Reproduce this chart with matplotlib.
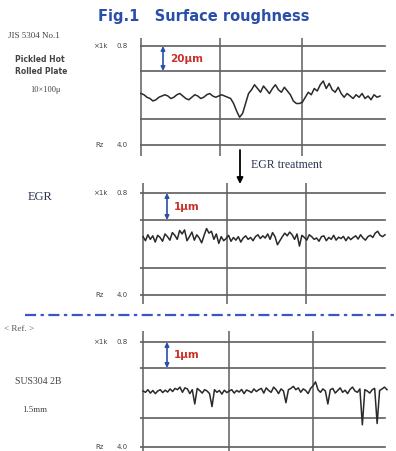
import matplotlib.pyplot as plt
import numpy as np

W, H = 396, 451

# profile heights (um), left to right
prof_hot = [2, 1, -1, -2, -4, -3, -1, 0, 1, 0, -2, -1, 1, 2, 0, -2, -3, -1, 1, 0,
            -2, -1, 1, 2, 0, -1, 0, 1, 0, -1, -2, -6, -12, -17, -14, -6, 2, 5, 9, 6,
            3, 8, 5, 2, 6, 9, 5, 3, 7, 4, 1, -4, -6, -6, -5, -1, 3, 1, 6, 4,
            9, 12, 6, 10, 5, 3, 7, 2, -1, 2, 0, -2, 1, -1, 2, -2, 0, -3, 1, -1, 0]

prof_egr = [0.05, -0.10, 0.12, -0.05, 0.08, -0.15, 0.10, 0.02, -0.12, 0.15,
            0.05, -0.08, 0.20, 0.10, -0.05, 0.28, 0.15, 0.30, -0.10, 0.05,
            0.22, -0.08, 0.12, 0.00, -0.18, 0.10, 0.35, 0.18, 0.25, -0.05,
            0.15, -0.20, 0.05, -0.10, -0.02, 0.10, -0.12, 0.02, -0.08, 0.05,
            -0.15, 0.00, 0.08, -0.05, 0.02, -0.10, 0.05, 0.12, -0.02, 0.08,
            0.00, 0.15, -0.05, 0.20, 0.05, -0.25, -0.10, 0.05, 0.18, 0.08,
            0.22, 0.12, -0.05, 0.15, -0.30, 0.10, 0.02, -0.08, 0.12, 0.05,
            -0.05, 0.00, -0.12, 0.05, 0.08, -0.10, 0.02, -0.05, 0.10, -0.08,
            0.03, -0.02, 0.06, -0.10, 0.04, -0.06, 0.02, 0.08, -0.04, 0.12,
            0.00, -0.08, 0.05, 0.10, 0.02, 0.18, 0.25, 0.10, 0.05, 0.12]

prof_ref = [0.00, -0.05, 0.05, -0.08, 0.02, -0.10, 0.00, 0.05, -0.06, 0.03,
            -0.04, 0.08, -0.02, 0.10, 0.05, 0.15, -0.05, 0.12, 0.08, -0.10,
            0.05, -0.50, 0.10, 0.02, -0.08, 0.05, 0.00, -0.10, -0.60, 0.05,
            -0.05, 0.02, -0.12, 0.03, -0.06, 0.00, 0.05, -0.08, 0.02, -0.04,
            0.06, -0.10, 0.04, 0.00, -0.06, 0.08, -0.02, 0.05, 0.10, -0.08,
            0.12, 0.02, -0.05, 0.15, 0.05, -0.10, 0.08, 0.00, -0.45, 0.05,
            0.10, 0.18, 0.05, 0.12, -0.05, 0.08, 0.02, -0.10, 0.10, 0.20,
            0.35, 0.05, -0.05, 0.08, 0.00, -0.50, 0.05, 0.10, -0.08, 0.02,
            0.12, -0.05, 0.03, -0.10, 0.06, 0.15, 0.00, -0.05, 0.08, -1.30,
            0.05, 0.00, -0.08, 0.05, 0.10, -1.25, 0.02, 0.08, 0.15, 0.05]

scale_labels = ["20μm", "1μm", "1μm"]

fig = plt.figure(figsize=(W / 100, H / 100), dpi=100)
fig.patch.set_facecolor("white")

# background axes in pixel coordinates for the free text
bg = fig.add_axes([0, 0, 1, 1])
bg.set_xlim(0, W)
bg.set_ylim(H, 0)
bg.axis("off")

BLUE = "#2a4fa8"
RED = "#c8322a"
GRID = "#5e5e5e"
TRACE = "#2a2a2a"


def panel(top, bottom, center, unit_px, um_per_unit, hlines, vlines, prof,
          x0, x1, label):
    ax = fig.add_axes([140 / W, 1 - bottom / H, (390 - 140) / W, (bottom - top) / H])
    ax.set_xlim(140, 390)
    ax.set_ylim((center - bottom) / unit_px * um_per_unit,
                (center - top) / unit_px * um_per_unit)
    ax.axis("off")
    for yp in hlines:
        ax.axhline((center - yp) / unit_px * um_per_unit, xmin=0, xmax=0.98,
                   color=GRID, lw=1.2)
    for xp in vlines:
        ax.axvline(xp, color=GRID, lw=1.1)
    xs = np.linspace(x0, x1, len(prof))
    ax.plot(xs, prof, color=TRACE, lw=1.1)
    # scale bar between the two upper lines
    xa = 163 if label == "20μm" else 167
    ya = (center - hlines[0]) / unit_px * um_per_unit
    yb = (center - hlines[1]) / unit_px * um_per_unit
    ax.annotate("", xy=(xa, ya), xytext=(xa, yb),
                arrowprops=dict(arrowstyle="<|-|>", color=BLUE, lw=1.2,
                                mutation_scale=6, shrinkA=0, shrinkB=0))
    ax.text(xa + 7, (ya + yb) / 2, label, color=RED, fontsize=7.5,
            fontweight="bold", va="center")
    return ax


panel(38, 156, 96, 25, 20, [46, 71, 119, 145], [141, 220, 302],
      prof_hot, 141, 380, scale_labels[0])
panel(183, 304, 238, 27, 1, [193, 220, 268, 295], [143, 227, 306],
      prof_egr, 143, 385, scale_labels[1])
panel(331, 451, 391, 26, 1, [342, 368, 418, 447], [143, 229, 313],
      prof_ref, 143, 387, scale_labels[2])

# title
bg.text(204, 17, "Fig.1   Surface roughness", color=BLUE, fontsize=10.5,
        fontweight="bold", ha="center", va="center")

serif = "Liberation Serif"
bg.text(8, 36, "JIS 5304 No.1", fontsize=6.5, family=serif, color="#444", va="center")
bg.text(15, 60, "Pickled Hot", fontsize=5.5, fontweight="bold", color="#444", va="center")
bg.text(15, 71, "Rolled Plate", fontsize=5.5, fontweight="bold", color="#444", va="center")
bg.text(30, 90, "10×100μ", fontsize=6, family=serif, color="#444", va="center")

bg.text(28, 197, "EGR", fontsize=9, family=serif, color="#2b3550", va="center")
bg.text(4, 329, "< Ref. >", fontsize=6.5, family=serif, color="#555", va="center")
bg.text(15, 381, "SUS304 2B", fontsize=7, family=serif, color="#444", va="center")
bg.text(22, 410, "1.5mm", fontsize=6.5, family=serif, color="#444", va="center")

# small scale notes next to each chart
for yt, yb2 in [(46, 145), (193, 295), (342, 447)]:
    bg.text(122, yt, "0.8", fontsize=5, color="#444", va="center", ha="center")
    bg.text(100, yt, "×1k", fontsize=5, color="#444", va="center", ha="center")
    bg.text(122, yb2, "4.0", fontsize=5, color="#444", va="center", ha="center")
    bg.text(100, yb2, "Rz", fontsize=5, color="#444", va="center", ha="center")

# EGR treatment arrow
bg.annotate("", xy=(240, 184), xytext=(240, 150),
            arrowprops=dict(arrowstyle="-|>", color="black", lw=1.3,
                            mutation_scale=9, shrinkA=0, shrinkB=0))
bg.text(251, 165, "EGR treatment", fontsize=8.5, family=serif, color="#2b3550",
        va="center")

# separator
bg.plot([25, 396], [315, 315], color="#3a55c8", lw=1.6,
        linestyle=(0, (5, 2, 1.5, 2)))

fig.savefig("out.png", dpi=100, facecolor="white")
